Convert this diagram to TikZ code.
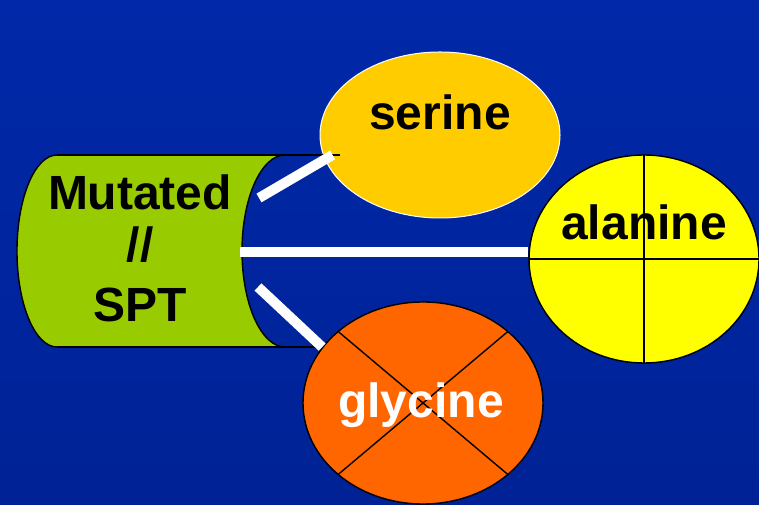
\documentclass[tikz,border=0pt]{standalone}
\usepackage{fontspec}
\setmainfont{Liberation Sans}
\usetikzlibrary{shapes.geometric}
\definecolor{bgtop}{RGB}{0,40,168}
\definecolor{bgmid}{RGB}{0,51,204}
\definecolor{bgbot}{RGB}{0,34,150}
\definecolor{serinecol}{RGB}{255,204,0}
\definecolor{alaninecol}{RGB}{255,255,0}
\definecolor{glycinecol}{RGB}{255,102,0}
\definecolor{sptgreen}{RGB}{153,204,0}
\tikzset{
    amino/.style={ellipse, inner sep=0pt, draw=black, line width=1.4pt},
    bigtext/.style={font=\bfseries\fontsize{48}{56}\selectfont, inner sep=0pt},
    link/.style={white, line width=10pt}
}
\begin{document}
\begin{tikzpicture}[x=1pt,y=1pt]
    % background
    \shade[top color=bgtop, middle color=bgmid, bottom color=bgbot] (0,0) rectangle (759,505);
    \useasboundingbox (0,0) rectangle (759,505);
    % serine
    \node[amino, draw=white, line width=1pt, fill=serinecol, minimum width=240pt, minimum height=166pt] (serine) at (440,370) {};
    % the cylinder
    \fill[sptgreen] (57,350) arc[start angle=90, end angle=270, x radius=40pt, y radius=96pt]
        -- (285,158) arc[start angle=270, end angle=90, x radius=43pt, y radius=96pt] -- cycle;
    \draw[line width=1.4pt] (57,350) arc[start angle=90, end angle=270, x radius=40pt, y radius=96pt];
    \draw[line width=1.4pt] (285,158) arc[start angle=270, end angle=90, x radius=43pt, y radius=96pt];
    \draw[line width=1.4pt] (57,350) -- (340,350);
    \draw[line width=1.4pt] (57,158) -- (340,158);
    \node[bigtext, align=center] (spt) at (140,257) {Mutated\\[-4pt]//\\[4pt]SPT};
    % alanine
    \node[amino, fill=alaninecol, minimum width=230pt, minimum height=208pt] (alanine) at (644,246) {};
    \draw[line width=1.4pt] (alanine.north) -- (alanine.south);
    \draw[line width=1.4pt] (alanine.west) -- (alanine.east);
    % glycine
    \node[amino, fill=glycinecol, minimum width=240pt, minimum height=202pt] (glycine) at (423,102) {};
    \draw[line width=1.4pt] (glycine.north west) -- (glycine.south east);
    \draw[line width=1.4pt] (glycine.north east) -- (glycine.south west);
    % links
    \coordinate (spt-top) at (259,307);
    \coordinate (spt-mid) at (240,253);
    \coordinate (spt-bot) at (258,218);
    \draw[link, shorten >=-9pt] (spt-top) -- (serine.192);
    \draw[link] (spt-mid) -- (spt-mid -| alanine.west);
    \draw[link] (spt-bot) -- (glycine.151);
    % names
    \node[bigtext, anchor=base] (serine-name) at (440,375) {serine};
    \node[bigtext, anchor=base] (alanine-name) at (644,265) {alanine};
    \node[bigtext, anchor=base, white] (glycine-name) at (421,87) {glycine};
\end{tikzpicture}
\end{document}
